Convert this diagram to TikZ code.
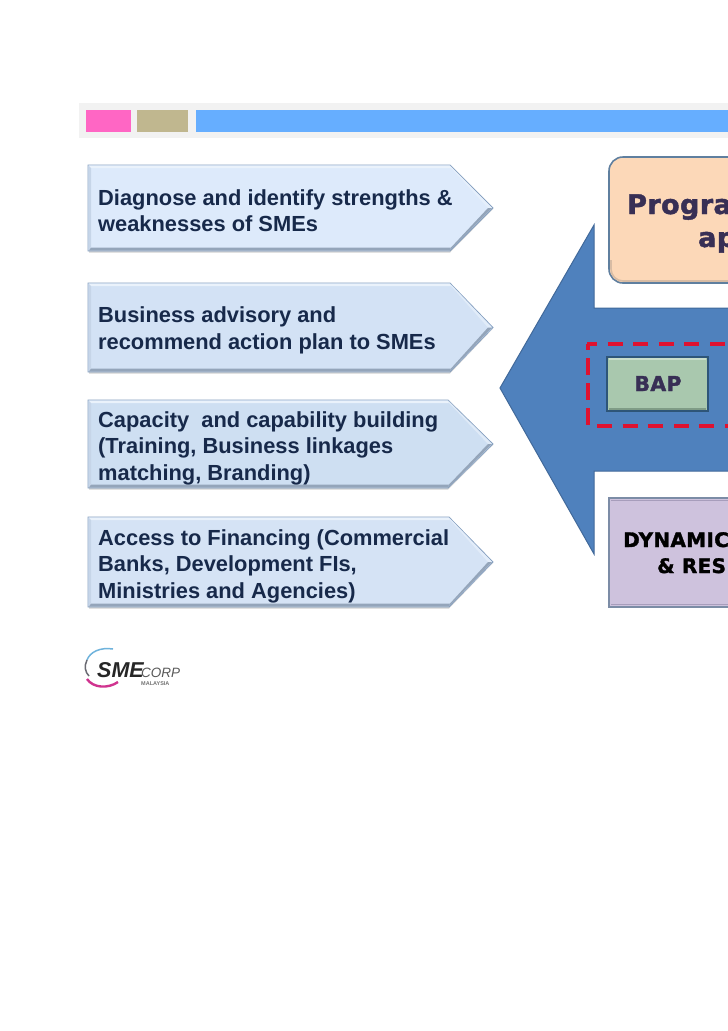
\documentclass[tikz,border=0pt]{standalone}
\usepackage{fontspec}
\setmainfont{Liberation Sans}
\newfontfamily\heavy[BoldFeatures={FakeBold=1.6,LetterSpace=1.5}]{DejaVu Sans}
\definecolor{inktext}{HTML}{17294A}
\definecolor{edgeblue}{HTML}{86A0C0}
\definecolor{bevellight}{HTML}{EAF2FB}
\definecolor{beveldark}{HTML}{94A5BA}
\definecolor{bevelmid}{HTML}{C6D5E8}
\definecolor{bigblue}{HTML}{4F81BD}
\definecolor{bigedge}{HTML}{41699A}
\definecolor{purpletext}{HTML}{382F55}
\definecolor{hpink}{HTML}{FF66C4}
\definecolor{htan}{HTML}{C0B78F}
\definecolor{hblue}{HTML}{66AEFF}
\definecolor{fa}{HTML}{DDEAFB}
\definecolor{fb}{HTML}{D3E2F5}
\definecolor{fc}{HTML}{CEDFF2}
\definecolor{fd}{HTML}{D5E3F5}
\definecolor{peach}{HTML}{FCD8B8}
\definecolor{peachedge}{HTML}{5F7F9F}
\definecolor{peachdark}{HTML}{D8BCA4}
\definecolor{redframe}{HTML}{DE1230}
\definecolor{bapfill}{HTML}{A9C8AE}
\definecolor{bapedge}{HTML}{2E5578}
\definecolor{baplight}{HTML}{C9DDCB}
\definecolor{bapdark}{HTML}{7F9C86}
\definecolor{lilac}{HTML}{CEC2DD}
\definecolor{lilacedge}{HTML}{7C8CA6}
\definecolor{lilacbevel}{HTML}{A79DBB}
\definecolor{logoblue}{HTML}{6FB3DC}
\definecolor{logogray}{HTML}{6A6A72}
\definecolor{logopink}{HTML}{D0338F}
\newcommand{\chevron}[4]{% top, bottom, shoulder, fill
  \pgfmathsetmacro{\mm}{(#1+#2)/2}
  \fill[black!18] (89,#2) -- (#3,#2) -- (493,\mm+1) -- (#3,#2+1.5) -- (89,#2+1.5) -- cycle;
  \filldraw[fill=#4,draw=edgeblue,line width=.8pt] (88,#1) -- (#3,#1) -- (493,\mm) -- (#3,#2) -- (88,#2) -- cycle;
  \fill[bevellight] (88.5,#1+.5) -- (#3,#1+.5) -- (#3+1,#1+3) -- (91,#1+3) -- cycle;
  \fill[bevellight!60!#4] (#3,#1+.5) -- (492,\mm) -- (488,\mm) -- (#3+1,#1+3) -- cycle;
  \fill[beveldark] (#3,#2-.5) -- (492,\mm) -- (488,\mm) -- (#3+1,#2-3.5) -- cycle;
  \fill[beveldark] (88.5,#2-.5) -- (#3,#2-.5) -- (#3+1,#2-3.5) -- (91,#2-3.5) -- cycle;
  \fill[bevelmid] (88.5,#1+.5) -- (91,#1+3) -- (91,#2-3.5) -- (88.5,#2-.5) -- cycle;
}
\tikzset{
  armtext/.style={anchor=base west,inner sep=0pt,font=\fontsize{21.85}{26}\selectfont\bfseries,text=inktext},
  heavytext/.style={anchor=base west,inner sep=0pt},
  redline/.style={redframe,line width=3.6pt},
}
\begin{document}
\begin{tikzpicture}[x=1pt,y=-1pt]
\useasboundingbox (0,0) rectangle (728,1031);
\fill[white] (0,0) rectangle (728,1031);
% header
\fill[black!5] (79,103) rectangle (728,138);
\fill[hpink] (86,110) rectangle (131,132);
\fill[htan] (137,110) rectangle (188,132);
\fill[hblue] (196,110) rectangle (728,132);
% chevrons
\chevron{165}{251}{450}{fa}
\chevron{283}{372}{450}{fb}
\chevron{400}{488}{448}{fc}
\chevron{517}{607}{449}{fd}
\node[armtext] (t1a) at (98,205) {Diagnose and identify strengths \&};
\node[armtext] (t1b) at (98,231) {weaknesses of SMEs};
\node[armtext] (t2a) at (98,322) {Business advisory and};
\node[armtext] (t2b) at (98,349) {recommend action plan to SMEs};
\node[armtext] (t3a) at (98,427) {Capacity\ \ and capability building};
\node[armtext] (t3b) at (98,453) {(Training, Business linkages};
\node[armtext] (t3c) at (98,480) {matching, Branding)};
\node[armtext] (t4a) at (98,545) {Access to Financing (Commercial};
\node[armtext] (t4b) at (98,571) {Banks, Development FIs,};
\node[armtext] (t4c) at (98,598) {Ministries and Agencies)};
% big arrow
\filldraw[fill=bigblue,draw=bigedge,line width=1pt] (500,388) -- (594,225) -- (594,308) -- (729,308) -- (729,471) -- (594,471) -- (594,554) -- cycle;
% peach box
\filldraw[fill=peach,draw=peachedge,line width=1.6pt,rounded corners=14pt] (609,157) rectangle (760,283);
\draw[peachdark,line width=1.6pt,rounded corners=12pt] (611,260) -- (611,281) -- (760,281);
% red dashed frame
\draw[redline,dash pattern=on 15pt off 10.6pt,dash phase=5pt] (587,344) -- (740,344);
\draw[redline,dash pattern=on 16.5pt off 8.5pt,dash phase=11pt] (588,344) -- (588,426);
\draw[redline,dash pattern=on 15pt off 10.6pt] (597,426) -- (740,426);
% BAP
\filldraw[fill=bapfill,draw=bapedge,line width=1.6pt] (607,357) rectangle (708,411);
\draw[baplight,line width=1.2pt] (609,359) -- (706,359);
\draw[bapdark,line width=1.6pt] (609,409) -- (706,409);
% purple box
\filldraw[fill=lilac,draw=lilacedge,line width=1.4pt] (609,498) rectangle (740,607);
\draw[lilacbevel,line width=1.6pt] (611,500.5) -- (740,500.5);
\draw[lilacbevel,line width=1.6pt] (611,604.5) -- (740,604.5);
% texts of the boxes
\node[heavytext,font=\heavy\bfseries\fontsize{27}{30}\selectfont,text=purpletext] (prog) at (627,214) {Progra};
\node[heavytext,font=\heavy\bfseries\fontsize{27}{30}\selectfont,text=purpletext] (appr) at (698,247) {ap};
\node[heavytext,font=\heavy\bfseries\fontsize{20.5}{24}\selectfont,text=purpletext,anchor=base] (bap) at (658,391) {BAP};
\node[heavytext,font=\heavy\bfseries\fontsize{20}{24}\selectfont,text=black] (dyn) at (623,547) {DYNAMIC};
\node[heavytext,font=\heavy\bfseries\fontsize{20}{24}\selectfont,text=black] (res) at (657,573) {\& RES};
% logo
\draw[logoblue,line width=1.5pt] (87,660) .. controls (90,652) and (100,647) .. (113,649);
\draw[logogray,line width=1.5pt] (87,660) .. controls (84,666) and (85,672) .. (89,676);
\draw[logopink,line width=2.4pt] (87,679) .. controls (93,688) and (108,689) .. (118,682);
\node[inner sep=0pt,anchor=base west,font=\fontsize{21.5}{24}\selectfont\bfseries\itshape,text=black!85] (sme) at (97,677) {SME};
\node[inner sep=0pt,anchor=base west,font=\fontsize{13.5}{14}\selectfont\itshape,text=black!65] (corp) at (141,677) {CORP};
\node[inner sep=0pt,anchor=base west,font=\fontsize{5.5}{6}\selectfont\bfseries,text=black!55] (mal) at (141,685) {MALAYSIA};
\end{tikzpicture}
\end{document}
